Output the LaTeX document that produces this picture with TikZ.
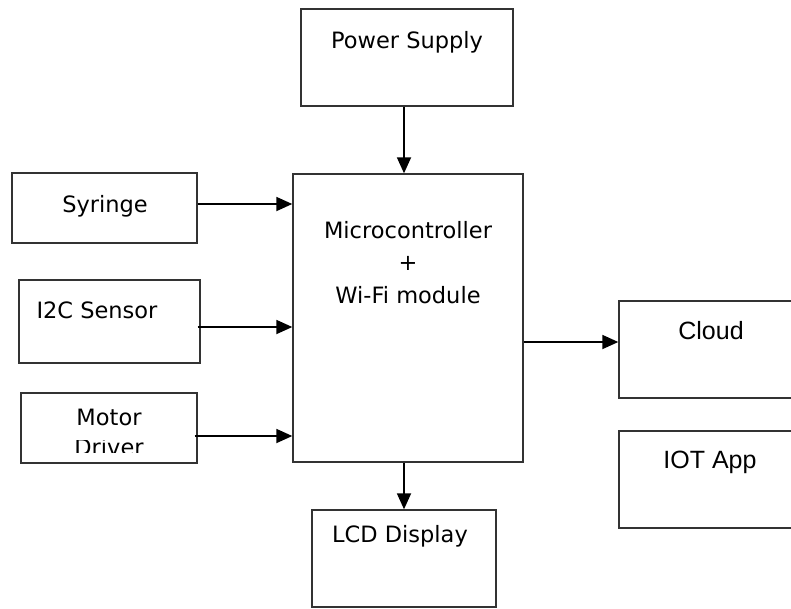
\documentclass[tikz,border=0pt]{standalone}
\usepackage{fontspec}
\setmainfont{DejaVu Sans}
\newfontfamily\arialf{Liberation Sans}
\usetikzlibrary{arrows.meta}
\tikzset{
  box/.style={draw=black!80, line width=1.4pt, rectangle, inner sep=0pt},
  arr/.style={draw=black, line width=1.8pt, -{Triangle[length=16pt,width=14pt]}},
  lbl/.style={font=\fontsize{22.5}{26}\selectfont, inner sep=0pt, anchor=base},
  albl/.style={font=\arialf\fontsize{25}{29}\selectfont, inner sep=0pt, anchor=base},
}
\begin{document}
\begin{tikzpicture}[x=1pt,y=-1pt]
\useasboundingbox (0,0) rectangle (791,608);
\clip (0,0) rectangle (791,608);
% boxes
\node[box, minimum width=212pt, minimum height=97pt] (power) at (407,57.5) {};
\node[box, minimum width=230pt, minimum height=288pt] (mcu) at (408,318) {};
\node[box, minimum width=184pt, minimum height=97pt] (lcd) at (404,558.5) {};
\node[box, minimum width=185pt, minimum height=70pt] (syr) at (104.5,208) {};
\node[box, minimum width=181pt, minimum height=83pt] (i2c) at (109.5,321.5) {};
\node[box, minimum width=176pt, minimum height=70pt] (motor) at (109,428) {};
\node[box, minimum width=200pt, minimum height=97pt] (cloud) at (719,349.5) {};
\node[box, minimum width=200pt, minimum height=97pt] (iot) at (719,479.5) {};
% texts
\node[lbl] (powertxt) at (407,48) {Power Supply};
\node[lbl] (syrtxt) at (105,212) {Syringe};
\node[lbl] (i2ctxt) at (97,318) {I2C Sensor};
\node[lbl] (mcutxt1) at (408,238) {Microcontroller};
\node[lbl] (mcutxt2) at (408,270) {+};
\node[lbl] (mcutxt3) at (408,303) {Wi-Fi module};
\node[lbl] (lcdtxt) at (400,542) {LCD Display};
\node[albl] (cloudtxt) at (711,339) {Cloud};
\node[albl] (iottxt) at (710,468) {IOT App};
\node[lbl] (motortxt) at (109,425) {Motor};
\begin{scope}
\clip (21,440) rectangle (197,452);
\node[lbl] (drivertxt) at (109,455) {Driver};
\end{scope}
% arrows
\draw[arr] (power.south -| 404,0) -- (mcu.north -| 404,0);
\draw[arr] (syr.east |- 0,204) -- (mcu.west |- 0,204);
\draw[arr] (i2c.east |- 0,327) ++(-3,0) -- (mcu.west |- 0,327);
\draw[arr] (motor.east |- 0,436) ++(-3,0) -- (mcu.west |- 0,436);
\draw[arr] (mcu.east |- 0,342) -- (cloud.west |- 0,342);
\draw[arr] (mcu.south -| 404,0) -- (lcd.north -| 404,0);
\end{tikzpicture}
\end{document}
